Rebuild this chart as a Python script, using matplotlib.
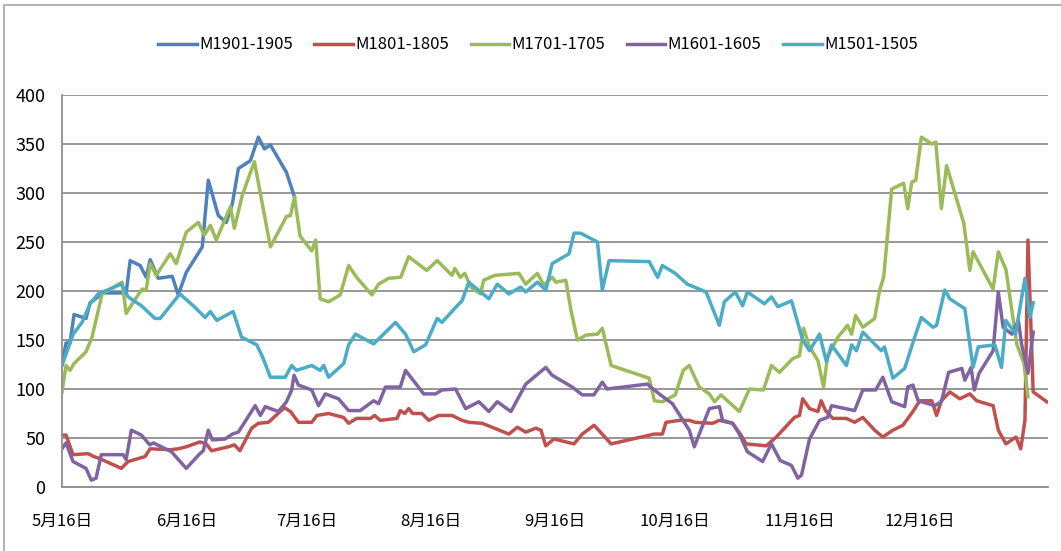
import matplotlib
matplotlib.use("Agg")
import matplotlib.pyplot as plt
from matplotlib.patches import Rectangle
import pandas as pd

plt.rcParams["font.family"] = ["Noto Sans CJK SC", "DejaVu Sans"]

# jours écoulés depuis le 16 mai
m1901_day = [0, 1, 2, 3, 6, 7, 9, 10, 16, 17,
             19.5, 21, 22, 24, 27.5, 29, 31, 35, 36.5, 39,
             41, 42.5, 44, 47, 49, 50.5, 52, 56, 58]
m1901_val = [125, 147, 147, 176, 172, 188, 194, 198, 198, 231,
             226, 214, 232, 213, 215, 196, 219, 245, 313, 277,
             270, 289, 325, 333, 357, 345, 349, 321, 296]

m1801_day = [0, 1, 2.75, 6.5, 8, 9.4, 14.8, 16.5, 20.7, 22,
             27, 29, 31, 34.4, 36, 37.3, 41.5, 43, 44.4, 47.3,
             49, 51.5, 55.5, 57, 59, 62.3, 63.6, 66.5, 70.25, 71.5,
             73.5, 77, 78, 79.4, 83.6, 84.4, 85.5, 86.5, 87.5, 89.8,
             91.5, 94, 97.3, 99.8, 101.5, 104.8, 107.3, 111.5, 113.6, 115.7,
             118.2, 119.5, 120.7, 122.75, 125.7, 127.75, 129.8, 132.75, 137, 147.75,
             149.8, 150.7, 154, 156.5, 158, 162.3, 164, 167.3, 169.4, 170.7,
             175.7, 178.2, 182.75, 184, 184.8, 186.5, 188.6, 189.4, 190.5, 192.3,
             195.7, 197.75, 199.8, 202.75, 204.8, 207.3, 209.8, 212.3, 214, 217,
             218.2, 219.4, 221.5, 224, 226.5, 228.2, 232.3, 233.6, 235.5, 238,
             239.2, 240.25, 241, 242.3, 245.7]
m1801_val = [53, 53, 33, 34, 31, 29, 19, 26, 31, 39,
             38, 39, 41, 46, 44, 37, 41, 43, 37, 60,
             65, 66, 81, 77, 66, 66, 73, 75, 71, 65,
             70, 70, 73, 68, 70, 78, 75, 80, 75, 75,
             68, 73, 73, 68, 66, 65, 61, 54, 61, 56,
             60, 58, 42, 49, 46, 44, 54, 63, 44, 54,
             54, 66, 68, 68, 66, 65, 68, 65, 53, 44,
             42, 51, 71, 73, 90, 80, 77, 88, 78, 70,
             70, 66, 71, 58, 51, 58, 63, 77, 88, 88,
             73, 88, 97, 90, 95, 88, 83, 58, 44, 51,
             39, 68, 252, 97, 87]

m1701_day = [0, 1, 2, 3, 6, 7.5, 10, 15, 16, 18,
             20, 21, 22, 23.5, 27, 28.5, 31, 34, 35.5, 37,
             38.5, 42, 43, 45, 48, 52, 56, 57, 58, 59.4,
             62.3, 63.3, 64.4, 66.5, 69.4, 71.5, 73.5, 77.3, 79, 81.5,
             84.5, 86.5, 91, 93.6, 97.3, 98, 99.4, 100.5, 102, 104.4,
             105.2, 108, 114, 115.7, 118.6, 120.2, 122.3, 123.2, 125.7, 127,
             128.6, 130.7, 133.6, 134.8, 137, 146.5, 147.8, 149.8, 153, 155,
             156.5, 159, 161.5, 162.8, 164.4, 169, 171.5, 175, 177, 179,
             182.3, 184, 185, 186.5, 188.6, 190, 191, 193.6, 196, 197,
             198, 199.8, 202.75, 204, 205, 207, 210, 211, 212, 213,
             214.4, 217, 218, 219.4, 220.7, 222.3, 225, 226.5, 227.3, 232.3,
             233.6, 235.5, 238.2, 240, 241]
m1701_val = [97, 124, 119, 126, 138, 153, 197, 209, 177, 190,
             202, 201, 228, 216, 238, 228, 260, 270, 257, 267,
             252, 286, 264, 298, 332, 245, 276, 277, 296, 256,
             241, 252, 192, 189, 196, 226, 214, 196, 207, 213,
             214, 235, 221, 231, 216, 223, 214, 218, 204, 197,
             211, 216, 218, 207, 218, 206, 214, 209, 211, 180,
             150, 155, 156, 162, 124, 111, 88, 87, 94, 119,
             124, 102, 95, 87, 94, 77, 100, 99, 124, 117,
             131, 134, 162, 143, 129, 102, 133, 153, 165, 156,
             175, 163, 172, 201, 214, 304, 310, 284, 311, 313,
             357, 350, 352, 284, 328, 306, 269, 221, 240, 202,
             240, 222, 146, 126, 92]

m1601_day = [0, 1, 2.75, 6, 7.3, 8.5, 9.8, 15.25, 16, 17.3,
             19.8, 21.9, 22.8, 27.3, 31, 34.4, 35.25, 36.5, 37.5, 40.7,
             42.5, 44, 48.2, 49.5, 50.7, 54, 56, 57.3, 57.9, 59,
             62.3, 64, 65.7, 69, 71.5, 74.4, 77.75, 79, 80.7, 84.4,
             85.7, 90.25, 93.2, 94.8, 98.2, 100.7, 104, 106.5, 108.6, 112,
             115.7, 120.7, 122.3, 127.3, 129.8, 132.7, 134.8, 136, 146, 149,
             152.3, 156.5, 157.75, 161.5, 164, 164.8, 167.3, 169, 171, 174.8,
             177, 179.2, 182, 183.6, 184.5, 186.5, 189, 191, 192, 197.75,
             199.8, 203, 204.8, 207, 210.25, 211, 212.3, 213.6, 217.75, 219.4,
             221.2, 224.5, 225.25, 226.8, 227.6, 228.8, 232.3, 233.6, 234.8, 237,
             238.6, 239.4, 241, 242.3]
m1601_val = [39, 45, 26, 19, 7, 9, 33, 33, 28, 58,
             53, 43, 45, 36, 19, 34, 37, 58, 48, 49,
             54, 56, 83, 73, 82, 77, 87, 99, 114, 104,
             99, 83, 95, 90, 78, 78, 88, 85, 102, 102,
             119, 95, 95, 99, 100, 80, 87, 77, 87, 77,
             105, 122, 114, 102, 94, 94, 107, 100, 105, 95,
             85, 58, 41, 80, 82, 68, 65, 54, 36, 26,
             44, 27, 22, 9, 12, 49, 68, 71, 83, 78,
             99, 99, 112, 87, 82, 102, 104, 88, 83, 87,
             117, 121, 109, 122, 99, 116, 139, 199, 163, 156,
             170, 146, 116, 158]

m1501_day = [0, 2.8, 5, 7, 9, 14.8, 16.5, 19.8, 23.2, 24.5,
             29.4, 33, 35.7, 37, 38.6, 42.7, 44.8, 48.6, 50, 52,
             55.7, 57.3, 58.5, 62.3, 64.4, 65.3, 66.5, 70.3, 71.5, 73.2,
             77.75, 83.2, 85.7, 87.75, 90.7, 93.6, 94.8, 98.6, 99.8, 101.5,
             106.5, 108.6, 111.5, 114.4, 115.7, 118.6, 120.7, 122.3, 126.5, 127.75,
             129.4, 133.6, 134.8, 136.5, 146.5, 148.6, 149.8, 153, 156, 160.7,
             164, 165.25, 168, 169.8, 171, 175.25, 177, 178.6, 182, 184.8,
             186.5, 189, 190.7, 192, 195.7, 197, 198.2, 199.8, 204.4, 205.2,
             207.3, 210.25, 212.75, 214.4, 217.3, 218.2, 220.25, 221.5, 225.25, 227.3,
             228.6, 232.75, 234.4, 235.5, 237.9, 240.25, 241.5, 242.3]
m1501_val = [124, 156, 168, 187, 197, 207, 194, 185, 172, 172,
             197, 184, 173, 179, 170, 179, 153, 145, 133, 112,
             112, 124, 119, 124, 119, 124, 112, 126, 145, 156,
             146, 168, 156, 138, 145, 172, 168, 185, 190, 209,
             192, 207, 197, 204, 199, 209, 201, 228, 238, 259,
             259, 250, 201, 231, 230, 214, 226, 218, 207, 199,
             165, 189, 199, 185, 199, 187, 194, 184, 190, 150,
             139, 156, 128, 145, 124, 145, 139, 158, 139, 143,
             111, 121, 153, 173, 163, 165, 201, 192, 182, 122,
             143, 145, 122, 170, 156, 213, 173, 188]

SERIES = ["M1901-1905", "M1801-1805", "M1701-1705", "M1601-1605", "M1501-1505"]
COULEURS = ["#4F81BD", "#C0504D", "#9BBB59", "#8064A2", "#4BACC6"]
TICK_LABELS = ["5月16日", "6月16日", "7月16日", "8月16日",
               "9月16日", "10月16日", "11月16日", "12月16日"]

debut = pd.Timestamp("2018-05-16")
mois = pd.date_range(debut, periods=len(TICK_LABELS), freq=pd.DateOffset(months=1))
tick_days = [(d - debut).days for d in mois]

W, H = 1061, 551
fig = plt.figure(figsize=(W / 100, H / 100), dpi=100)
fig.patches.append(Rectangle((4 / W, -0.05), 1.2, (H - 5) / H + 0.05,
                             transform=fig.transFigure, fill=False,
                             edgecolor="#b5b5b5", lw=1.5))
ax = fig.add_axes([62 / W, (H - 487) / H, (1048 - 62) / W, (487 - 95) / H])

donnees = [(m1901_day, m1901_val), (m1801_day, m1801_val), (m1701_day, m1701_val),
           (m1601_day, m1601_val), (m1501_day, m1501_val)]
for (jours, vals), nom, c in zip(donnees, SERIES, COULEURS):
    ax.plot(jours, vals, color=c, lw=2.5, label=nom, solid_joinstyle="round")

ax.set_xlim(0, 246)
ax.set_ylim(0, 400)
ax.set_yticks(range(0, 401, 50))
ax.set_xticks(tick_days)
ax.set_xticklabels(TICK_LABELS)
ax.grid(axis="y", color="#8f8f8f", lw=1.3)
ax.set_axisbelow(True)
for s in ["top", "right"]:
    ax.spines[s].set_visible(False)
for s in ["left", "bottom"]:
    ax.spines[s].set_color("#8f8f8f")
    ax.spines[s].set_linewidth(1.3)
ax.tick_params(axis="y", length=0, pad=12, labelsize=13)
ax.tick_params(axis="x", length=0, pad=19, labelsize=12)

fig.legend(loc="center", bbox_to_anchor=(538 / W, (H - 45) / H), ncol=5,
           frameon=False, fontsize=12, handlelength=2.3, handletextpad=0.15,
           columnspacing=1.3)

fig.savefig("out.png", dpi=100)
